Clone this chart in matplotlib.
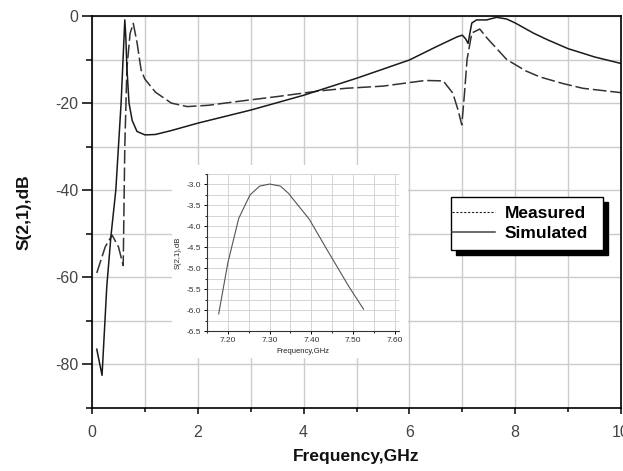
import numpy as np
import matplotlib
matplotlib.use("Agg")
import matplotlib.pyplot as plt
from matplotlib.lines import Line2D
from matplotlib.patches import Rectangle
from matplotlib.ticker import MultipleLocator, FormatStrFormatter

plt.rcParams['font.family'] = ['Liberation Sans', 'DejaVu Sans']
plt.rcParams['axes.unicode_minus'] = False

# simulated S21 (solid)
sim_f = [0.09, 0.19, 0.28, 0.36, 0.45, 0.55, 0.62, 0.64, 0.66, 0.70, 0.76, 0.85, 1.0, 1.2,
         1.5, 2.0, 3.0, 4.0, 5.0, 6.0, 6.5, 6.9, 7.0, 7.06, 7.11, 7.15, 7.18, 7.27, 7.46,
         7.65, 7.84, 8.0, 8.34, 8.6, 9.0, 9.5, 10.0]
sim_db = [-76.5, -82.5, -62.0, -50.3, -40.0, -20.0, -0.9, -5.0, -12.0, -20.0, -24.0, -26.5,
          -27.3, -27.2, -26.3, -24.6, -21.6, -18.2, -14.3, -10.1, -7.1, -4.8, -4.4, -5.2,
          -6.3, -3.5, -1.6, -0.9, -0.9, -0.3, -0.7, -1.6, -3.9, -5.4, -7.5, -9.4, -10.9]

# measured S21 (dashed)
meas_f = [0.09, 0.25, 0.38, 0.50, 0.59, 0.62, 0.66, 0.72, 0.78, 0.85, 0.93, 1.0, 1.2, 1.5,
          1.8, 2.2, 2.7, 3.5, 4.3, 4.8, 5.5, 6.3, 6.64, 6.82, 6.92, 6.99, 7.04, 7.09, 7.18,
          7.33, 7.47, 7.84, 8.2, 8.47, 8.9, 9.28, 10.0]
meas_db = [-59.0, -53.0, -50.3, -53.0, -57.3, -30.0, -12.0, -4.0, -1.7, -6.0, -12.5, -14.5,
           -17.5, -20.0, -20.8, -20.5, -19.7, -18.5, -17.2, -16.6, -16.1, -14.8, -14.9,
           -17.7, -21.6, -25.0, -18.0, -10.0, -3.9, -3.0, -5.1, -10.0, -12.6, -14.0, -15.5,
           -16.6, -17.6]

# inset: simulated passband detail
ins_f = [7.178, 7.20, 7.226, 7.253, 7.276, 7.30, 7.326, 7.345, 7.395, 7.44, 7.49, 7.525]
ins_db = [-6.09, -4.87, -3.81, -3.25, -3.04, -2.99, -3.04, -3.21, -3.83, -4.60, -5.44, -5.98]

fig = plt.figure(figsize=(6.23, 4.71), dpi=100)
ax = fig.add_axes([92/623, 63/471, 529/623, 392/471])

ax.plot(meas_f, meas_db, color='#333333', lw=1.1, dashes=(9, 2.5))
ax.plot(sim_f, sim_db, color='#1a1a1a', lw=1.1)

ax.set_xlim(0, 10)
ax.set_ylim(-90, 0)
ax.xaxis.set_major_locator(MultipleLocator(2))
ax.xaxis.set_minor_locator(MultipleLocator(1))
ax.yaxis.set_major_locator(MultipleLocator(20))
ax.yaxis.set_minor_locator(MultipleLocator(10))
ax.grid(True, which='both', color='#cccccc', lw=1)
ax.set_axisbelow(True)
ax.tick_params(axis='y', which='major', direction='out', length=7, width=1.1,
               labelsize=11.5, labelcolor='#444444', pad=3)
ax.tick_params(axis='y', which='minor', direction='out', length=4, width=1.1)
ax.tick_params(axis='x', which='major', direction='out', length=4.5, width=1.1,
               labelsize=11.5, labelcolor='#444444', pad=8)
ax.tick_params(axis='x', which='minor', direction='out', length=3, width=1.1)
for s in ax.spines.values():
    s.set_linewidth(1.2)
ax.set_xlabel('Frequency,GHz', fontsize=12.5, fontweight='bold', color='#111111', labelpad=6)
ax.set_ylabel('S(2,1),dB', fontsize=12.5, fontweight='bold', color='#111111', labelpad=17)

# legend box with hard black shadow
x0, x1, yb, yt = 0.6786, 0.966, 0.403, 0.538
ax.add_patch(Rectangle((x0 + 0.009, yb - 0.013), x1 - x0, yt - yb, transform=ax.transAxes,
                       facecolor='black', edgecolor='black', zorder=5))
ax.add_patch(Rectangle((x0, yb), x1 - x0, yt - yb, transform=ax.transAxes,
                       facecolor='white', edgecolor='black', lw=1.0, zorder=6))
handles = [Line2D([], [], color='#222222', lw=0.8, dashes=(2, 1.5)),
           Line2D([], [], color='#444444', lw=1.1)]
leg = ax.legend(handles, ['Measured', 'Simulated'], loc='center left',
                bbox_to_anchor=(x0 + 0.002, (yb + yt) / 2), frameon=False,
                borderpad=0, borderaxespad=0, handlelength=2.5, handletextpad=0.55,
                labelspacing=0.25, prop={'size': 12.5, 'weight': 'bold'})
leg.set_zorder(7)

# white area behind inset
fig.patches.append(Rectangle((172/623, 113/471), 236/623, 193/471, transform=fig.transFigure,
                             facecolor='white', edgecolor='none', zorder=1))

ins = fig.add_axes([207/623, 140/471, 192/623, 157/471], zorder=2)
ins.plot(ins_f, ins_db, color='#555555', lw=0.8)
ins.set_xlim(7.15, 7.61)
ins.set_ylim(-6.5, -2.75)
ins.xaxis.set_major_locator(MultipleLocator(0.1))
ins.xaxis.set_minor_locator(MultipleLocator(0.05))
ins.yaxis.set_major_locator(MultipleLocator(0.5))
ins.yaxis.set_minor_locator(MultipleLocator(0.25))
ins.xaxis.set_major_formatter(FormatStrFormatter('%.2f'))
ins.yaxis.set_major_formatter(FormatStrFormatter('%.1f'))
ins.grid(True, which='both', color='#d4d4d4', lw=0.7)
ins.set_axisbelow(True)
ins.tick_params(which='major', direction='out', length=2.5, width=0.7, labelsize=6,
                labelcolor='#333333', pad=2)
ins.tick_params(which='minor', direction='out', length=1.5, width=0.6)
ins.spines['top'].set_visible(False)
ins.spines['right'].set_visible(False)
for s in ['left', 'bottom']:
    ins.spines[s].set_linewidth(0.8)
    ins.spines[s].set_color('#333333')
ins.set_xlabel('Frequency,GHz', fontsize=5.5, color='#222222', labelpad=3)
ins.set_ylabel('S(2,1),dB', fontsize=5.5, color='#222222', labelpad=3)

fig.savefig('out.png', dpi=100)
